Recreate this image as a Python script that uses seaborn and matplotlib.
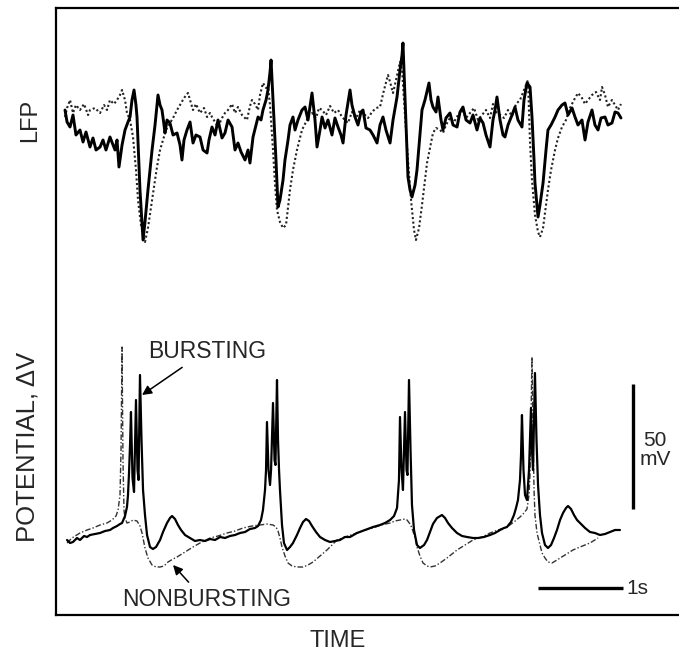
import numpy as np
import pandas as pd
import matplotlib
matplotlib.use("Agg")
import matplotlib.pyplot as plt
import seaborn as sns

# ---------------- data (time in s, LFP in a.u., membrane potential in mV) ----------------
lfp_solid_t = [0, .024, .059, .094, .129, .176, .212, .247, .294, .329, .365, .412, .447, .482, .529, .565, .588, .612,
               .635, .671, .706, .741, .765, .788, .812, .835, .847, .882, .918, .941, .976, 1.0, 1.024, 1.059, 1.094,
               1.118, 1.141, 1.165, 1.176, 1.2, 1.235, 1.271, 1.318, 1.353, 1.376, 1.4, 1.435, 1.471, 1.506, 1.541,
               1.588, 1.624, 1.671, 1.694, 1.729, 1.765, 1.8, 1.847, 1.882, 1.918, 1.965, 2.0, 2.035, 2.071, 2.118,
               2.153, 2.176, 2.212, 2.247, 2.271, 2.306, 2.329, 2.365, 2.388, 2.412, 2.424, 2.447, 2.482, 2.506, 2.529,
               2.565, 2.588, 2.624, 2.647, 2.682, 2.706, 2.741, 2.788, 2.824, 2.859, 2.906, 2.941, 2.965, 3.0, 3.024,
               3.059, 3.094, 3.141, 3.176, 3.212, 3.247, 3.271, 3.306, 3.353, 3.376, 3.412, 3.447, 3.482, 3.506, 3.541,
               3.588, 3.624, 3.671, 3.706, 3.741, 3.776, 3.824, 3.859, 3.906, 3.941, 3.965, 3.976, 4.0, 4.035, 4.059,
               4.082, 4.118, 4.141, 4.176, 4.2, 4.235, 4.282, 4.306, 4.329, 4.365, 4.388, 4.424, 4.447, 4.482, 4.529,
               4.565, 4.612, 4.647, 4.682, 4.718, 4.765, 4.8, 4.847, 4.882, 4.918, 4.953, 5.0, 5.035, 5.059, 5.082,
               5.118, 5.153, 5.176, 5.212, 5.259, 5.294, 5.329, 5.376, 5.4, 5.435, 5.471, 5.494, 5.518, 5.529, 5.565,
               5.588, 5.624, 5.659, 5.682, 5.718, 5.765, 5.8, 5.847, 5.882, 5.918, 5.965, 6.0, 6.035, 6.082, 6.118,
               6.153, 6.2, 6.235, 6.271, 6.306, 6.353, 6.388, 6.435, 6.471, 6.506, 6.541]
lfp_solid_v = [6, 1.2, -0.8, 4, -4, -2, -6.8, -2.8, -8.8, -5.2, -10, -8.8, -6, -10, -4.8, -8, -10, -6,
               -16.8, -8, -2, 1.2, 3.2, 10, 14, 8, 3.2, -26, -46, -38.8, -26, -18, -10, 0, 12,
               8, 6, 0, -3.2, 2, 0.8, -4, -3.2, -8, -14, -6, -2, 1.2, -7.2, -4,
               -4.8, -10, -11.2, -6, -0.8, -4, 2, -5.2, -3.2, 2, -0.8, -10, -7.2, -10.8, -14,
               -10, -15.2, -4.8, 0, 3.2, 2, 6, 10, 14, 21.2, 26, 10, -14, -32.8, -30,
               -22, -14, -6, 0, 3.2, -2, 2, 6, 7.2, 2, 12.8, 2, -8.8, -2, 3.2,
               -1.2, 2, -4, 2.8, -0.8, -4, -7.2, 4, 14, 8, 3.2, 0, 5.2, 6, -1.2,
               -2, -4, -7.2, 0, 3.2, -2, -7.2, 2, 11.2, 22, 28, 32.8, 11.2, -20.8, -26,
               -28.8, -24, -18, -4, 6, 10, 16.8, 10, 7.2, 5.2, 11.2, 2, -2, 2.8, 4.8,
               0, -0.8, 5.2, 7.2, 2, 0.8, 4, -2, 2.8, 0.8, -4, -8.8, 2, 6, 11.2,
               2, -4, -4.8, 0, 4, 7.2, 2, -0.8, 10, 16.8, 15.2, 3.2, -14, -23.2, -36.8,
               -32, -23.2, -10, -2, 0, 3.2, 6, 8, 8.8, 4, 6.8, 3.2, 0, 2, -6,
               1.2, 6, 0, -2, 2.8, 3.2, 0, 0.8, 5.2, 4.8, 2.8]

lfp_dotted_t = [0, .024, .059, .094, .129, .176, .224, .271, .294, .353, .412, .459, .494, .529, .576, .612, .647, .671,
                .706, .729, .765, .8, .835, .859, .894, .941, .976, 1.024, 1.059, 1.082, 1.118, 1.153, 1.188, 1.235,
                1.271, 1.318, 1.353, 1.4, 1.447, 1.471, 1.506, 1.541, 1.588, 1.635, 1.671, 1.706, 1.729, 1.765, 1.8,
                1.847, 1.882, 1.918, 1.965, 2.0, 2.035, 2.082, 2.118, 2.141, 2.176, 2.2, 2.235, 2.271, 2.294, 2.329,
                2.365, 2.388, 2.412, 2.447, 2.471, 2.494, 2.529, 2.565, 2.6, 2.647, 2.682, 2.729, 2.765, 2.788, 2.835,
                2.871, 2.906, 2.953, 2.988, 3.024, 3.071, 3.118, 3.165, 3.212, 3.259, 3.294, 3.329, 3.376, 3.424,
                3.471, 3.518, 3.565, 3.612, 3.659, 3.706, 3.753, 3.8, 3.824, 3.859, 3.894, 3.941, 3.965, 3.988, 4.0,
                4.035, 4.071, 4.106, 4.129, 4.165, 4.2, 4.235, 4.259, 4.294, 4.329, 4.365, 4.412, 4.447, 4.482, 4.529,
                4.576, 4.624, 4.671, 4.718, 4.765, 4.812, 4.859, 4.906, 4.953, 5.0, 5.035, 5.071, 5.118, 5.165, 5.212,
                5.259, 5.306, 5.353, 5.4, 5.447, 5.471, 5.494, 5.529, 5.565, 5.588, 5.624, 5.659, 5.682, 5.718, 5.765,
                5.8, 5.847, 5.894, 5.941, 5.988, 6.035, 6.082, 6.118, 6.153, 6.2, 6.247, 6.294, 6.318, 6.353, 6.388,
                6.435, 6.471, 6.506, 6.541]
lfp_dotted_v = [3.2, 6.8, 10, 4.8, 8, 6, 8.4, 4, 6, 6.8, 4.8, 8, 6, 10, 8.4, 10, 12, 14,
                10, 4.8, 2, -4.8, -18, -30, -40, -46.8, -41.2, -30, -22, -16.8, -10, -6, -2, 0.8,
                2.8, 6, 8, 10.8, 12.8, 10, 6, 8.4, 4.8, 6.8, 3.2, 4.8, 3.2, 1.2, -0.8,
                2.8, 4.8, 6, 8.4, 4.8, 7.2, 4, 2.8, 2, 7.6, 10, 8.4, 6, 12, 16.8,
                14.8, 15.2, 8, -10, -24, -34, -38.8, -41.2, -40, -26, -18, -10, -5.2, -2, 1.2,
                4, 4.8, 2.8, 6.8, 6, 4, 7.6, 4.8, 6, 3.2, 2, 0.8, 5.2, 2.8,
                6, 4.4, 2.8, 5.2, 6.8, 7.2, 14, 20, 17.2, 12.8, 18, 25.2, 22, 10, 3.2,
                -14, -30, -42, -46, -41.2, -32, -22, -15.2, -9.2, -3.2, -1.2, -2, -3.2, 0, 2.8,
                1.2, 4, 6, 2.8, 4.8, 6.8, 2, 4, 6, 2.8, 8.4, 5.2, 4, 2.8, 6,
                3.6, 8.4, 10, 14, 18, -7.2, -22, -36, -42.8, -44.8, -41.2, -32, -26, -18, -10,
                -5.2, -0.8, 2, 6.8, 10, 12.8, 10.8, 8.4, 10, 12, 13.2, 10, 15.2, 12, 7.2,
                10, 8, 6, 8.4]

vm_burst_t = [.024, .059, .094, .141, .176, .224, .259, .294, .353, .412, .471, .529, .565, .612, .647, .671, .706,
              .729, .741, .753, .765, .776, .794, .812, .835, .853, .865, .882, .9, .918, .941, .965, 1.0, 1.035,
              1.071, 1.118, 1.153, 1.2, 1.235, 1.259, 1.294, 1.329, 1.365, 1.412, 1.471, 1.529, 1.588, 1.647,
              1.706, 1.765, 1.824, 1.882, 1.941, 2.0, 2.059, 2.118, 2.176, 2.235, 2.271, 2.306, 2.329, 2.353,
              2.365, 2.376, 2.394, 2.412, 2.424, 2.447, 2.465, 2.476, 2.494, 2.506, 2.518, 2.529, 2.553, 2.576,
              2.612, 2.647, 2.682, 2.729, 2.765, 2.8, 2.835, 2.871, 2.906, 2.953, 3.0, 3.059, 3.118, 3.176, 3.235,
              3.294, 3.353, 3.435, 3.529, 3.624, 3.706, 3.765, 3.824, 3.871, 3.906, 3.929, 3.941, 3.959, 3.976,
              4.0, 4.018, 4.029, 4.047, 4.065, 4.082, 4.106, 4.141, 4.176, 4.224, 4.259, 4.294, 4.329, 4.376,
              4.435, 4.471, 4.506, 4.553, 4.612, 4.671, 4.729, 4.8, 4.859, 4.929, 5.0, 5.059, 5.118, 5.165, 5.2,
              5.247, 5.282, 5.306, 5.329, 5.353, 5.365, 5.376, 5.394, 5.412, 5.435, 5.459, 5.482, 5.494, 5.506,
              5.529, 5.547, 5.565, 5.588, 5.612, 5.647, 5.682, 5.718, 5.753, 5.788, 5.824, 5.859, 5.894, 5.918,
              5.953, 5.988, 6.024, 6.059, 6.118, 6.176, 6.235, 6.294, 6.353, 6.412, 6.471, 6.529]
vm_burst_v = [0, -1.2, -0.8, 0.8, 0, 1.6, 1.2, 2, 2.4, 2.8, 3.6, 4, 4.8, 5.6, 6.4, 6.8, 9.6,
              13.2, 18, 26.8, 38, 51.2, 24.8, 19.2, 56, 28, 24, 66, 40, 20, 10, 2, -2.8, -3.6,
              -2.8, 0, 3.2, 6.8, 8.8, 9.6, 8.4, 6, 4, 2, 0.8, -0.4, 0, -0.4,
              0.4, 0, 1.2, 0.8, 1.6, 2, 2.8, 3.2, 4.4, 4.8, 5.6, 8, 12, 20,
              28, 47.2, 28, 22, 28, 54.8, 32, 30, 64, 40, 28, 20, 6, -1.2,
              -4, -2.8, -1.2, 2, 4.8, 7.2, 8.4, 7.6, 5.6, 3.2, 1.2, 0, -0.8, -0.4, 0,
              1.2, 1.2, 2.8, 4, 5.2, 6, 6.8, 8, 9.6, 12.8, 24, 49.2, 28, 20,
              51.2, 28, 26, 64, 36, 14, 4, -2, -3.2, -2, 0, 3.2, 6.4, 8.8,
              10, 8.8, 6.8, 4.8, 2.8, 1.6, 1.2, 0.8, 0.8, 1.2, 2, 2.8, 4, 4.8, 5.2,
              7.2, 10, 12.8, 16, 24, 34, 50, 28, 18, 16, 28, 52.8, 36, 28,
              66.8, 40, 22, 10, 2.8, -2, -3.2, -2, 0.8, 4, 8, 10.8, 12.8, 13.6,
              12.4, 10, 8, 6.8, 4.8, 3.2, 2.8, 2, 2.4, 3.2, 4, 4]

vm_nonburst_t = [.024, .082, .176, .259, .329, .412, .494, .553, .6, .624, .647, .659, .671, .682, .694, .706, .729,
                 .765, .8, .847, .882, .906, .941, .976, 1.024, 1.071, 1.118, 1.165, 1.212, 1.271, 1.318, 1.412,
                 1.506, 1.588, 1.706, 1.8, 1.906, 2.0, 2.094, 2.2, 2.294, 2.376, 2.447, 2.482, 2.506, 2.529, 2.553,
                 2.588, 2.624, 2.671, 2.729, 2.8, 2.859, 2.918, 3.0, 3.082, 3.153, 3.2, 3.294, 3.435, 3.529, 3.624,
                 3.718, 3.824, 3.882, 3.941, 4.0, 4.024, 4.059, 4.082, 4.118, 4.141, 4.176, 4.212, 4.259, 4.294,
                 4.353, 4.412, 4.494, 4.612, 4.706, 4.8, 4.906, 5.0, 5.094, 5.2, 5.282, 5.353, 5.4, 5.435, 5.459,
                 5.471, 5.482, 5.494, 5.506, 5.518, 5.529, 5.553, 5.588, 5.612, 5.647, 5.682, 5.729, 5.788, 5.882,
                 5.976, 6.059, 6.176, 6.271]
vm_nonburst_v = [-1.2, 0.8, 2.8, 4, 4.8, 6, 6.8, 8, 9.6, 12, 18, 36, 77.2, 32, 12, 8.8, 6.8,
                 7.2, 8, 7.6, 5.6, 2.8, -3.2, -7.2, -10, -10.8, -10.8, -10.4, -8.8, -7.6, -6.8, -4.8,
                 -2.8, -1.2, 0.8, 1.6, 2.8, 3.6, 4.8, 5.6, 6, 6.4, 6, 5.2, 3.6, 0.8, -2.8,
                 -6.4, -9.2, -10.4, -10.8, -10.8, -10, -8.8, -6.4, -4, -1.6, 0, 1.2, 2.8, 4, 4.8,
                 6, 6.8, 7.6, 8, 8.4, 8, 6.4, 4.8, 0.8, -2.8, -6.4, -9.2, -10.4, -10.8,
                 -10.4, -9.2, -7.2, -4, -2, 0, 1.2, 2.8, 4, 5.2, 7.2, 9.2, 10.8, 12.4, 18,
                 26.8, 48, 73.2, 44, 20, 10, 2.8, -2, -5.2, -7.2, -8.8, -9.2, -8, -6,
                 -4, -2.8, -1.2, 0.8]

# annotation texts
y_label_top = "LFP"
y_label_bottom = "POTENTIAL, \u0394V"
x_label = "TIME"
label_burst = "BURSTING"
label_nonburst = "NONBURSTING"
scale_v_text = "50\nmV"
scale_t_text = "1s"
scale_v_mv = 50
scale_t_s = 1

# ---------------- figure ----------------
sns.set_style("white")
plt.rcParams['font.family'] = ['Liberation Sans', 'DejaVu Sans']

W, H = 679, 660
fig = plt.figure(figsize=(W / 100, H / 100), dpi=100)
pos = [56 / W, 45 / H, (700 - 56) / W, 607 / H]
ax = fig.add_axes(pos)               # frame + membrane potential
ax_l = fig.add_axes(pos, sharex=ax)  # LFP overlay
ax_l.patch.set_alpha(0)

xlim = (-0.106, (700 - 65) / 85)
ax.set_xlim(*xlim)
ax.set_ylim(-30, 212.8)
ax_l.set_ylim(-196, 46.8)

df_ls = pd.DataFrame({"t": lfp_solid_t, "v": lfp_solid_v})
df_ld = pd.DataFrame({"t": lfp_dotted_t, "v": lfp_dotted_v})
df_vb = pd.DataFrame({"t": vm_burst_t, "v": vm_burst_v})
df_vn = pd.DataFrame({"t": vm_nonburst_t, "v": vm_nonburst_v})

sns.lineplot(data=df_ld, x="t", y="v", ax=ax_l, color="#222222", lw=1.5,
             linestyle=(0, (1, 1.2)), estimator=None, sort=False)
sns.lineplot(data=df_ls, x="t", y="v", ax=ax_l, color="black", lw=2.1,
             estimator=None, sort=False)
sns.lineplot(data=df_vn, x="t", y="v", ax=ax, color="#333333", lw=1.0,
             linestyle=(0, (4, 1.5, 1, 1.5)), estimator=None, sort=False)
sns.lineplot(data=df_vb, x="t", y="v", ax=ax, color="black", lw=1.6,
             estimator=None, sort=False)

for a in (ax, ax_l):
    a.set_xlabel("")
    a.set_ylabel("")
    a.set_xticks([])
    a.set_yticks([])
ax_l.axis("off")
ax_l.set_xlim(*xlim)

for s in ("left", "top", "bottom"):
    ax.spines[s].set_visible(True)
    ax.spines[s].set_linewidth(1.6)
    ax.spines[s].set_color("black")
ax.spines["right"].set_visible(False)

# scale bars
bar_t = 6.682
ax.plot([bar_t, bar_t], [12.5, 12.5 + scale_v_mv], color="black", lw=2.4, solid_capstyle="butt")
ax.plot([5.565, 5.565 + scale_t_s], [-19.2, -19.2], color="black", lw=2.4, solid_capstyle="butt")
ax.text(6.94, 36, scale_v_text, ha="center", va="center", fontsize=15, linespacing=1.0)
ax.text(6.61, -19.6, scale_t_text, ha="left", va="center", fontsize=15)

# annotations
ax.annotate(label_burst, xy=(0.906, 58), xytext=(1.67, 75.6), ha="center", va="center", fontsize=16.5,
            arrowprops=dict(arrowstyle="-|>", lw=1.1, color="black", mutation_scale=14,
                            shrinkA=2, shrinkB=0, relpos=(0.35, 0)))
ax.annotate(label_nonburst, xy=(1.271, -10), xytext=(1.67, -23.6), ha="center", va="center", fontsize=16.5,
            arrowprops=dict(arrowstyle="-|>", lw=1.1, color="black", mutation_scale=14,
                            shrinkA=2, shrinkB=0, relpos=(0.42, 1)))

fig.text(30 / W, 1 - 120 / H, y_label_top, rotation=90, ha="center", va="center", fontsize=17)
fig.text(28 / W, 1 - 447 / H, y_label_bottom, rotation=90, ha="center", va="center", fontsize=18.5)
fig.text(338 / W, 1 - 641 / H, x_label, ha="center", va="center", fontsize=17)

fig.savefig("out.png", dpi=100)
